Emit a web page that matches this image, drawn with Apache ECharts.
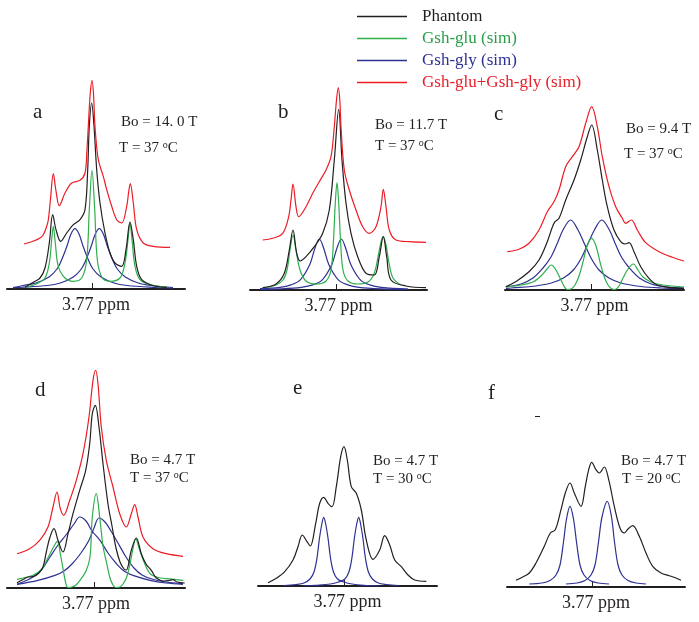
<!DOCTYPE html>
<html>
<head>
<meta charset="utf-8">
<script src="https://cdn.jsdelivr.net/npm/echarts@6/dist/echarts.min.js"></script>
<style>html,body{margin:0;padding:0;background:#fff}#c{width:699px;height:622px}</style>
</head>
<body>
<div id="c"></div>
<script>
// ---- data: x = offset from 3.77 ppm (arbitrary units), y = intensity (arbitrary units)
const legendNames = ['Phantom', 'Gsh-glu (sim)', 'Gsh-gly (sim)', 'Gsh-glu+Gsh-gly (sim)'];
const panelLetters = ['a', 'b', 'c', 'd', 'e', 'f'];
const fieldLabels = ['Bo = 14. 0 T', 'Bo = 11.7 T', 'Bo = 9.4 T', 'Bo = 4.7 T', 'Bo = 4.7 T', 'Bo = 4.7 T'];
const tempLabels = ['37', '37', '37', '37', '30', '20'];
const axisName = '3.77 ppm';

// panel a
const aRed = [[-68,45],[-59,47.7],[-52,51],[-48.7,54.3],[-45.5,62],[-43.7,69],[-41.5,90],[-38.7,115.3],[-36,98],[-32.7,83.3],[-27,96],[-20.3,106],[-12,108.7],[-7,116],[-5,140],[-3.7,162.7],[-1.8,195],[0,208.7],[1.5,195],[3,162.7],[6.3,129.3],[11.3,112.7],[14.7,99.3],[19.7,82.7],[24.7,69.3],[29.7,66],[34.7,82.7],[36.8,98],[38.3,105.3],[41.3,86],[44.7,59.3],[51.3,46],[61.3,42.7],[78,41.7]];
const aBlack = [[-67,1.7],[-58.7,6.7],[-52,11],[-47,21],[-42.7,46],[-39.3,74.3],[-36,59.3],[-31.3,47.7],[-25.3,56],[-18.7,64.3],[-12,69.3],[-7,79.3],[-4.3,119.3],[-2.7,162.7],[-0.3,186],[2,162.7],[4.7,119.3],[8,86],[13,56],[18,36],[23,26],[29.7,22.7],[34,39.3],[38,67],[41.3,49.3],[44.7,22.7],[49.7,9.3],[61.3,3.3],[74.7,1.7]];
const aGreen = [[-67,1.7],[-55.3,5.3],[-47,11],[-42.7,26],[-40.3,49.3],[-38.7,62.7],[-36.7,46],[-33.7,22.7],[-27,11],[-18.7,7.7],[-10.3,11],[-5.3,29.3],[-2.7,79.3],[0,118.7],[2.7,79.3],[5.3,29.3],[10.3,11],[18,7.7],[28,11],[33,26],[36,49.3],[38,66],[40,49.3],[43,22.7],[48,9.3],[58,4.3],[74.7,1.7]];
const aBlue1 = [[-79,1.3],[-69,3.5],[-56,6],[-43,12],[-35,20],[-30,30],[-25,43],[-21,55],[-17,60.3],[-13,55],[-9,43],[-4,30],[1,20],[9,12],[22,6],[35,3.5],[63,1.5],[81,0.8]];
const aBlue2 = [[-79,1.1],[-72.7,1.5],[-44.7,3.5],[-31.7,6],[-18.7,12],[-10.7,20],[-5.7,30],[-0.7,43],[3.3,55],[7.3,60.3],[11.3,55],[15.3,43],[20.3,30],[25.3,20],[33.3,12],[46.3,6],[59.3,3.5],[81,1.5]];

// panel b
const bRed = [[-73.3,50],[-63.3,51.7],[-53.3,56.7],[-47.3,73.3],[-45,90],[-43,106],[-40,83.3],[-37.3,73.3],[-30,83.3],[-23.3,96.7],[-16.7,108.3],[-10,120],[-5,133.3],[-1.7,163.3],[0.5,190],[2.3,202.3],[3.8,190],[5,163.3],[8.3,120],[13.3,100],[20,80],[26.7,63.3],[33.3,56.7],[40,63.3],[45,83.3],[47.3,100.7],[50,83.3],[53.3,60],[60,50],[73.3,48.3],[90,47.7]];
const bBlack = [[-73.3,2.3],[-60,6],[-51.7,16.7],[-46.7,40],[-43,60],[-39.3,36.7],[-35.7,29],[-30,33.3],[-21.7,43.3],[-13.3,56.7],[-6.7,80],[-1.7,130],[2.7,180.7],[6,130],[10,86.7],[15,56.7],[21.7,33.3],[30,16.7],[38.3,15],[43.3,33.3],[47.3,53.3],[50.7,33.3],[55,10],[70,4],[90,2.3]];
const bGreen = [[-73.3,2],[-60,5],[-53,10],[-49,20],[-46,40],[-43,55],[-40,40],[-36,20],[-30,9],[-20,6],[-10,9],[-5,20],[-2.5,50],[-0.8,85],[1,107.3],[2.8,85],[4.5,50],[7,20],[12,9],[22,6],[32,8],[38,16],[42,33],[45,48],[47.3,53.3],[50,45],[53,27],[57,12],[65,5]];
const bBlue1 = [[-76,1.5],[-56,2.7],[-45,5.1],[-35.7,10.2],[-26.2,25.5],[-21,42],[-16.7,51],[-12.4,42],[-7.2,25.5],[2.3,10.2],[11.8,5.1],[23,2.7],[45,1.2],[72,0.6]];
const bBlue2 = [[-76,0.6],[-54.7,1.2],[-34.7,2.7],[-23.2,5.1],[-13.7,10.2],[-4.2,25.5],[1,42],[5.3,51],[9.6,42],[14.8,25.5],[24.3,10.2],[33.8,5.1],[45.3,2.7],[72,1]];

// panel c
const cRed = [[-83.7,38.3],[-72,40.7],[-62,46.7],[-52,60],[-43.7,78.3],[-37,88.3],[-32,100],[-25.3,123.3],[-18.7,133.3],[-12,143.3],[-5.3,166.7],[0.7,183.3],[6.3,163.3],[11.3,133.3],[18,103.3],[24.7,83.3],[31.3,71.7],[34.7,66.7],[40.3,70],[46.3,60],[54.7,47.3],[68,38.3],[81.3,32.7],[93,29]];
const cBlack = [[-85.3,3.3],[-75.3,8.3],[-62,18.3],[-52,30],[-43.7,48.3],[-39,62],[-36,68.3],[-32,71.7],[-25.3,90],[-17,110],[-10.3,130],[-3.7,153.3],[0.7,165],[6.3,140],[11.3,110],[16.3,83.3],[23,60],[29.7,48.3],[34,46],[38,47.3],[43,38.3],[49.7,23.3],[58,11.7],[66.3,5],[81.3,2.3],[93,1.7]];
const cGreen = [[-85,3],[-70,5],[-58,8],[-50,14],[-44,21],[-39.7,25],[-35,20],[-31,12],[-27,4],[-24,0.5],[-20,1],[-16,5],[-12,14],[-8,28],[-4,44],[0.7,51.7],[5,44],[9,28],[13,14],[17,5],[21,1],[24,0.5],[28,4],[32,12],[37,21],[42.3,26],[47,20],[52,13],[60,8],[72,5],[93,3]];
const cBlue1 = [[-85,3],[-70,6],[-58,12],[-48,22],[-40,33],[-34,46],[-28,60],[-20.3,70],[-13,60],[-6,45],[0,32],[8,20],[18,12],[30,7],[50,3.5],[70,2],[93,1.3]];
const cBlue2 = [[-85,1.3],[-79.6,2],[-59.6,3.5],[-39.6,7],[-27.6,12],[-17.6,20],[-9.6,32],[-3.6,45],[3.4,60],[10.7,70],[18.4,60],[24.4,46],[30.4,33],[38.4,22],[48.4,12],[60.4,6],[75.4,3],[93,2]];

// panel d
const dRed = [[-77,34.3],[-64.3,39.3],[-54.3,47.7],[-46,61],[-41,81],[-37,96],[-33.7,79.3],[-30.3,72.7],[-24.3,87.7],[-17.7,107.7],[-11,134.3],[-5,171],[-1,207.7],[1.7,217.7],[4,204.3],[7.3,161],[12.3,127.7],[19,101],[25.7,74.3],[32.3,61],[37.3,74.3],[40.7,83.3],[44,71],[49,51],[59,39.3],[72.3,34.3],[89,31.7]];
const dBlack = [[-77,5.3],[-70,9],[-66,11],[-61,11.3],[-55,15],[-51,21],[-47.7,36],[-44.3,50],[-40,59.3],[-36,47.7],[-31,36],[-26,54.3],[-21,74.3],[-14.3,97.7],[-8.3,117.7],[-4.3,144.3],[-1.7,174.3],[1.3,182.7],[5,161],[9,124.3],[14,84],[18,62],[22,40],[26,26],[30,19],[32.3,18],[37.3,37.7],[42.3,50],[47.3,34.3],[52,24],[57.3,17.7],[62.3,10],[70,7],[75,7.5],[79,8.3],[83,6],[90.7,5]];
const dGreen = [[-77,8.7],[-61,12.7],[-52,19],[-47.3,27.7],[-41,40],[-36.7,46.7],[-33.5,33],[-30.7,17.7],[-28.5,6],[-26,0.5],[-22,1],[-18,3],[-14,7.7],[-8,17],[-4,31],[-1.7,71],[2.3,94.3],[5.7,71],[9,42],[12.7,24.7],[16,10],[19,3],[21.5,0.5],[26,1],[29,4],[32.7,11],[36,24],[39.3,41],[41.7,49.3],[45,40],[49.3,27.7],[56,14.3],[64,10.5],[72.7,9.3],[89.3,7.7]];
const dBlue1 = [[-77,3.7],[-61,11],[-52,19],[-44,31],[-36,43],[-27.3,54],[-20,64],[-14.3,71],[-8,67],[-2,57],[6,47.7],[14,35],[22.7,24],[30,17],[39,12.6],[56,7.7],[72,5],[89,3.7]];
const dBlue2 = [[-77,3.7],[-56,7.7],[-39,12.6],[-30,17],[-22,24],[-13,35],[-5,47.7],[0,60],[5,70],[11,66],[17,57],[24,45],[32,31],[40,20],[48,13],[58,9],[72,6],[89,4.3]];

// panel e
const eBlack = [[-76,3.3],[-67.7,7.7],[-59.3,14.3],[-51,26],[-46,39.3],[-41.7,51],[-37,44.3],[-33.7,40],[-28.3,62.7],[-24.3,82.7],[-20.3,88.7],[-16,82.7],[-12,79.3],[-7.7,99.3],[-3.3,129.3],[0,139.3],[3.3,126],[7.3,99.3],[12.3,92.7],[17.3,76],[22.3,46],[29,26.7],[35.7,36],[40.7,50.3],[45.7,41],[50.7,26],[57.3,19.3],[64,11],[70.7,6],[82.3,4.7]];
const eBlue1 = [[-60,0.5],[-48,1.5],[-40,3],[-34,7],[-30,14],[-27,28],[-24.5,48],[-22,63],[-20.3,68.7],[-18.5,63],[-16,48],[-13.5,28],[-10.5,14],[-6.5,7],[0,4],[8,2],[20,0.7],[35,0]];
const eBlue2 = [[-40.6,0],[-28.6,0.7],[-13.6,2],[-5.6,4],[0.9,7],[4.9,14],[7.9,28],[10.4,48],[12.9,63],[14.7,68.7],[16.4,63],[18.9,48],[21.4,28],[24.4,14],[28.4,7],[34.4,3],[42.4,1.5],[54.4,0.5]];

// panel f
const fBlack = [[-76,6.7],[-69.3,10],[-62.7,14],[-56,24],[-47.7,40.7],[-41.7,54],[-36.7,57.3],[-31,77.3],[-26.7,94],[-22,104],[-17.7,94],[-11,80.7],[-6.7,100.7],[-3.3,117.3],[-0.3,124.7],[4,117.3],[7.3,114],[12.3,120],[16.7,107.3],[22.3,80.7],[28,59],[32.3,54],[36,58],[40.7,61.3],[47.3,50.7],[54,34],[60.7,20.7],[69,14],[77.3,11.3],[84,9],[89,6.7]];
const fBlue1 = [[-62.7,3],[-50,4],[-42,6.5],[-36,12],[-32,22],[-28.5,45],[-25.5,68],[-22,80.7],[-18.5,68],[-15.5,45],[-12,22],[-8,12],[-2,6.5],[6,4],[17,3]];
const fBlue2 = [[-26,3],[-15,4],[-7,6.5],[-1,12],[3,22],[6.5,45],[10,70],[15.3,85.7],[19.5,70],[22.5,45],[26,22],[30,12],[36,6.5],[44,4],[54,3]];

// x-axis extents and y-axis extents for each panel (data units)
const xMins = [-85, -86, -86, -87, -86, -85];
const xMaxs = [93, 91, 93, 91, 93, 93];
const yMaxs = [210, 210, 210, 220, 220, 220];

// ---- presentation
const colors = { black: '#231f20', green: '#2fae4e', blue: '#2e3192', red: '#ec1c24' };
const textColors = ['#231f20', '#2a9d4a', '#2e3192', '#e8202a'];
const nameOf = { black: legendNames[0], green: legendNames[1], blue: legendNames[2], red: legendNames[3] };
const panelCurves = [
  [['blue', aBlue1], ['blue', aBlue2], ['green', aGreen], ['black', aBlack], ['red', aRed]],
  [['blue', bBlue1], ['blue', bBlue2], ['green', bGreen], ['black', bBlack], ['red', bRed]],
  [['blue', cBlue1], ['blue', cBlue2], ['green', cGreen], ['black', cBlack], ['red', cRed]],
  [['blue', dBlue1], ['blue', dBlue2], ['green', dGreen], ['black', dBlack], ['red', dRed]],
  [['blue', eBlue1], ['blue', eBlue2], ['black', eBlack]],
  [['blue', fBlue1], ['blue', fBlue2], ['black', fBlack]]
];
const gridBoxes = [
  { left: 7, top: 79, width: 178, height: 210 },
  { left: 250, top: 80, width: 177, height: 210 },
  { left: 505, top: 80, width: 179, height: 210 },
  { left: 7, top: 368, width: 178, height: 220 },
  { left: 258, top: 366, width: 179, height: 220 },
  { left: 507, top: 367, width: 178, height: 220 }
];
const letterPos = [[33, 112], [278, 112], [494, 114], [35, 390], [293, 388.5], [488, 393]];
const fieldPos = [[121, 122], [375, 125], [626, 129], [130, 460], [373, 461], [621, 461]];
const tempPos = [[119, 148], [375, 146], [624, 154], [130, 478], [373, 479], [622, 479]];

const SERIF = '"Liberation Serif", "Times New Roman", serif';
const grids = [], xAxes = [], yAxes = [], series = [], graphics = [];
gridBoxes.forEach((g, i) => {
  grids.push(Object.assign({ containLabel: false }, g));
  xAxes.push({
    type: 'value', gridIndex: i, min: xMins[i], max: xMaxs[i],
    axisLine: { show: true, onZero: false, lineStyle: { color: '#231f20', width: 2 } },
    axisTick: { show: true, inside: true, length: 6, customValues: [0], lineStyle: { color: '#231f20', width: 1 } },
    axisLabel: { show: false },
    splitLine: { show: false },
    name: axisName, nameLocation: 'middle', nameGap: 7,
    nameTextStyle: { fontFamily: SERIF, fontSize: 18, color: '#231f20', verticalAlign: 'top' }
  });
  yAxes.push({ type: 'value', gridIndex: i, min: 0, max: yMaxs[i], show: false, splitLine: { show: false } });
  panelCurves[i].forEach(([kind, data]) => {
    series.push({
      type: 'line', name: nameOf[kind], xAxisIndex: i, yAxisIndex: i, data: data,
      showSymbol: false, symbol: 'none', smooth: 0.35, animation: false,
      lineStyle: { color: colors[kind], width: 1.2 }, itemStyle: { color: colors[kind] },
      emphasis: { disabled: true }, silent: true, z: kind === 'red' ? 5 : (kind === 'black' ? 4 : (kind === 'green' ? 3 : 2))
    });
  });
  graphics.push({ type: 'text', x: letterPos[i][0], y: letterPos[i][1],
    style: { text: panelLetters[i], fontFamily: SERIF, fontSize: 21, fill: '#231f20', verticalAlign: 'middle' } });
  graphics.push({ type: 'text', x: fieldPos[i][0], y: fieldPos[i][1],
    style: { text: fieldLabels[i], fontFamily: SERIF, fontSize: 15, fill: '#231f20', verticalAlign: 'middle' } });
  graphics.push({ type: 'text', x: tempPos[i][0], y: tempPos[i][1],
    style: { text: '{n|T = ' + tempLabels[i] + ' }{s|o}{n|C}', fontFamily: SERIF, fontSize: 15, fill: '#231f20', verticalAlign: 'middle',
      rich: { n: { fontFamily: SERIF, fontSize: 15, fill: '#231f20' }, s: { fontFamily: SERIF, fontSize: 10, fill: '#231f20', verticalAlign: 'top' } } } });
});
graphics.push({ type: 'rect', shape: { x: 535, y: 416, width: 5, height: 1 }, style: { fill: '#231f20' } });

const chart = echarts.init(document.getElementById('c'), null, { renderer: 'canvas' });
chart.setOption({
  backgroundColor: '#ffffff',
  animation: false,
  legend: {
    orient: 'vertical', left: 352, top: 3, itemWidth: 50, itemHeight: 1.6, itemGap: 5,
    icon: 'rect', selectedMode: false,
    textStyle: { fontFamily: SERIF, fontSize: 17, padding: [0, 0, 0, 10] },
    data: legendNames.map((n, k) => ({ name: n, textStyle: { color: textColors[k] } }))
  },
  grid: grids, xAxis: xAxes, yAxis: yAxes, series: series, graphic: graphics
});
</script>
</body>
</html>
